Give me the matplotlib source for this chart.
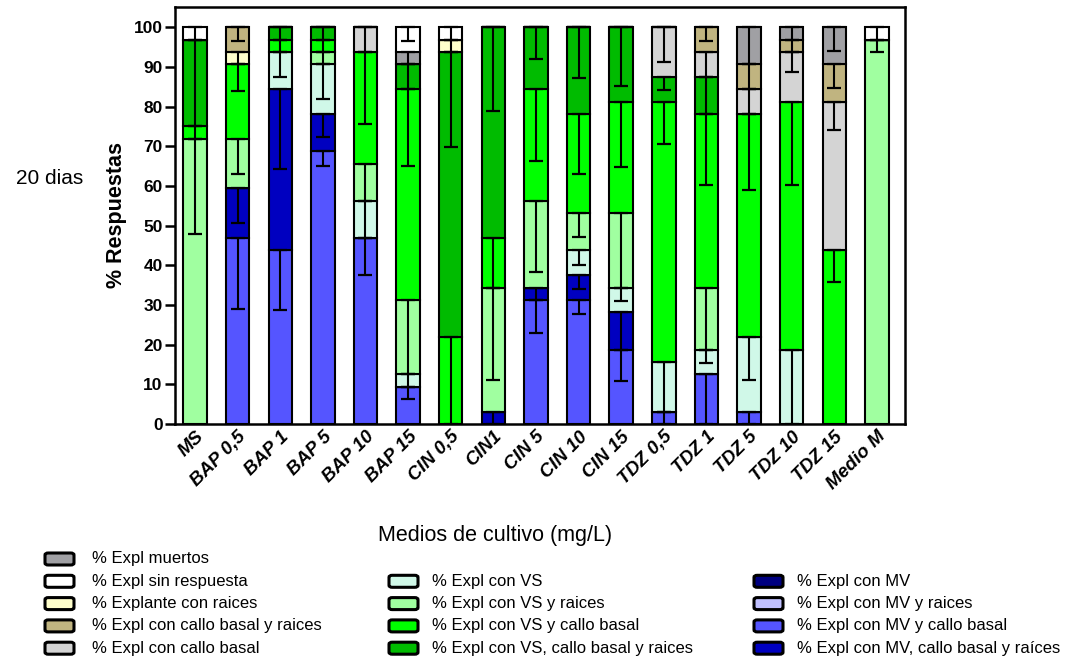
"""Stacked response bars (20 dias) per culture medium, with downward SD whiskers."""

import matplotlib

matplotlib.use("Agg")
import matplotlib.pyplot as plt
import numpy as np
from matplotlib.patches import FancyBboxPatch

plt.rcParams["font.family"] = ["Liberation Sans", "DejaVu Sans"]

MEDIOS = [
    "MS", "BAP 0,5", "BAP 1", "BAP 5", "BAP 10", "BAP 15", "CIN 0,5", "CIN1",
    "CIN 5", "CIN 10", "CIN 15", "TDZ 0,5", "TDZ 1", "TDZ 5", "TDZ 10", "TDZ 15",
    "Medio M",
]

# % of explants per response (stacked bottom -> top)
mv_callo = [0, 46.88, 43.75, 68.75, 46.88, 9.38, 0, 0, 31.25, 31.25, 18.75, 3.13, 12.5, 3.13, 0, 0, 0]
mv_callo_raices = [0, 12.5, 40.63, 9.38, 0, 0, 0, 3.13, 3.13, 6.25, 9.38, 0, 0, 0, 0, 0, 0]
mv = [0] * 17
mv_raices = [0] * 17
vs = [0, 0, 9.38, 12.5, 9.38, 3.13, 0, 0, 0, 6.25, 6.25, 12.5, 6.25, 18.75, 18.75, 0, 0]
vs_raices = [71.88, 12.5, 0, 3.13, 9.38, 18.75, 0, 31.25, 21.88, 9.38, 18.75, 0, 15.63, 0, 0, 0, 96.88]
vs_callo = [3.13, 18.75, 3.13, 3.13, 28.13, 53.13, 21.88, 12.5, 28.13, 25.0, 28.13, 65.63, 43.75, 56.25, 62.5, 43.75, 0]
vs_callo_raices = [21.88, 0, 3.13, 3.13, 0, 6.25, 71.88, 53.13, 15.63, 21.88, 18.75, 6.25, 9.38, 0, 0, 0, 0]
callo = [0, 0, 0, 0, 6.25, 0, 0, 0, 0, 0, 0, 12.5, 6.25, 6.25, 12.5, 37.5, 0]
raices = [0, 3.13, 0, 0, 0, 0, 3.13, 0, 0, 0, 0, 0, 0, 0, 0, 0, 0]
callo_raices = [0, 6.25, 0, 0, 0, 0, 0, 0, 0, 0, 0, 0, 6.25, 6.25, 3.13, 9.38, 0]
muertos = [0, 0, 0, 0, 0, 3.13, 0, 0, 0, 0, 0, 0, 0, 9.38, 3.13, 9.38, 0]
sin_resp = [3.13, 0, 0, 0, 0, 6.25, 3.13, 0, 0, 0, 0, 0, 0, 0, 0, 0, 3.13]

# SD (drawn only below each segment top)
mv_callo_sd = [0, 17.9, 15.1, 3.6, 9.3, 3.1, 0, 0, 8.2, 3.4, 8.0, 3.13, 12.5, 3.13, 0, 0, 0]
mv_callo_raices_sd = [0, 8.8, 20.2, 5.9, 0, 0, 0, 3.13, 3.13, 3.4, 9.38, 0, 0, 0, 0, 0, 0]
mv_sd = [0] * 17
mv_raices_sd = [0] * 17
vs_sd = [0, 0, 6.3, 8.6, 9.38, 3.13, 0, 0, 0, 3.7, 3.5, 12.5, 3.4, 10.8, 18.75, 0, 0]
vs_raices_sd = [24.1, 8.9, 0, 3.13, 9.38, 18.75, 0, 23.2, 17.9, 6.0, 18.75, 0, 15.63, 0, 0, 0, 3.0]
vs_callo_sd = [3.13, 6.6, 3.13, 3.13, 18.1, 19.3, 21.88, 12.5, 18.1, 15.2, 16.4, 10.7, 17.9, 19.2, 21.1, 8.0, 0]
vs_callo_raices_sd = [21.88, 0, 3.13, 3.13, 0, 6.25, 24.0, 21.2, 7.9, 12.8, 14.7, 3.3, 9.38, 0, 0, 0, 0]
callo_sd = [0, 0, 0, 0, 6.25, 0, 0, 0, 0, 0, 0, 8.7, 6.25, 6.25, 5.0, 7.1, 0]
raices_sd = [0, 3.13, 0, 0, 0, 0, 3.13, 0, 0, 0, 0, 0, 0, 0, 0, 0, 0]
callo_raices_sd = [0, 3.6, 0, 0, 0, 0, 0, 0, 0, 0, 0, 0, 3.4, 6.25, 3.13, 6.0, 0]
muertos_sd = [0, 0, 0, 0, 0, 3.13, 0, 0, 0, 0, 0, 0, 0, 9.38, 3.13, 6.1, 0]
sin_resp_sd = [3.13, 0, 0, 0, 0, 3.6, 3.13, 0, 0, 0, 0, 0, 0, 0, 0, 0, 3.13]

# (label, values, sd, colour) in stacking order
SERIES = [
    ("% Expl con MV y callo basal", mv_callo, mv_callo_sd, "#5555FF"),
    ("% Expl con MV, callo basal y raíces", mv_callo_raices, mv_callo_raices_sd, "#0000C0"),
    ("% Expl con MV", mv, mv_sd, "#000080"),
    ("% Expl con MV y raices", mv_raices, mv_raices_sd, "#C0C0FF"),
    ("% Expl con VS", vs, vs_sd, "#D0F8E8"),
    ("% Expl con VS y raices", vs_raices, vs_raices_sd, "#A0FFA0"),
    ("% Expl con VS y callo basal", vs_callo, vs_callo_sd, "#00FF00"),
    ("% Expl con VS, callo basal y raices", vs_callo_raices, vs_callo_raices_sd, "#00BB00"),
    ("% Expl con callo basal", callo, callo_sd, "#D4D4D4"),
    ("% Explante con raices", raices, raices_sd, "#FFFFCC"),
    ("% Expl con callo basal y raices", callo_raices, callo_raices_sd, "#C0B480"),
    ("% Expl muertos", muertos, muertos_sd, "#A0A0A4"),
    ("% Expl sin respuesta", sin_resp, sin_resp_sd, "#FFFFFF"),
]

LEGEND_COLS = [
    ["% Expl muertos", "% Expl sin respuesta", "% Explante con raices",
     "% Expl con callo basal y raices", "% Expl con callo basal"],
    [None, "% Expl con VS", "% Expl con VS y raices", "% Expl con VS y callo basal",
     "% Expl con VS, callo basal y raices"],
    [None, "% Expl con MV", "% Expl con MV y raices", "% Expl con MV y callo basal",
     "% Expl con MV, callo basal y raíces"],
]

W, H = 1077, 662
fig = plt.figure(figsize=(W / 100, H / 100), dpi=100)
ax = fig.add_axes([175 / W, 1 - 424 / H, 730 / W, 417 / H])

x = np.arange(len(MEDIOS))
bottom = np.zeros(len(MEDIOS))
tops = []
for label, vals, sd, color in SERIES:
    vals = np.asarray(vals, dtype=float)
    ax.bar(x, vals, width=0.55, bottom=bottom, color=color, edgecolor="black",
           linewidth=1.5, zorder=2)
    tops.append((bottom + vals, np.asarray(sd, dtype=float)))
    bottom = bottom + vals

for top, sd in tops:
    m = sd > 0
    if not m.any():
        continue
    ax.errorbar(x[m], top[m], yerr=[sd[m], np.zeros(m.sum())], fmt="none",
                ecolor="black", elinewidth=1.5, capsize=4.7, capthick=1.6, zorder=3)

ax.set_xlim(-0.47, 16.66)
ax.set_ylim(0, 105.1)
ax.set_yticks(np.arange(0, 101, 10))
ax.set_yticklabels([str(v) for v in range(0, 101, 10)], fontsize=12.5, fontweight="bold")
ax.set_xticks(x)
ax.set_xticklabels(MEDIOS, rotation=45, ha="right", va="top", rotation_mode="anchor",
                   fontsize=13.5, fontweight="bold", fontstyle="italic")
ax.tick_params(axis="x", length=0, pad=3)
ax.tick_params(axis="y", length=7, width=1.8, direction="out", pad=2)
for sp in ax.spines.values():
    sp.set_linewidth(1.8)

ax.set_ylabel("% Respuestas", fontsize=15.5, fontweight="bold", labelpad=5)
fig.text(50 / W, 1 - 178 / H, "20 dias", fontsize=15, ha="center", va="center")
fig.text(495 / W, 1 - 535 / H, "Medios de cultivo (mg/L)", fontsize=15.5,
         ha="center", va="center")

# legend, drawn by hand in three columns
colors = {label: color for label, _, _, color in SERIES}
col_x = [(45, 92), (389, 432), (754, 797)]
for (sx, tx), entries in zip(col_x, LEGEND_COLS):
    for i, label in enumerate(entries):
        if label is None:
            continue
        cy = 559 + 22.3 * i
        box = FancyBboxPatch((sx / W, 1 - (cy + 6) / H), 29 / W, 12 / H,
                             boxstyle="round,pad=0,rounding_size=0.003",
                             transform=fig.transFigure, facecolor=colors[label],
                             edgecolor="black", linewidth=2.2)
        fig.add_artist(box)
        fig.text(tx / W, 1 - cy / H, label, fontsize=12, ha="left", va="center")

fig.savefig("out.png", dpi=100)
